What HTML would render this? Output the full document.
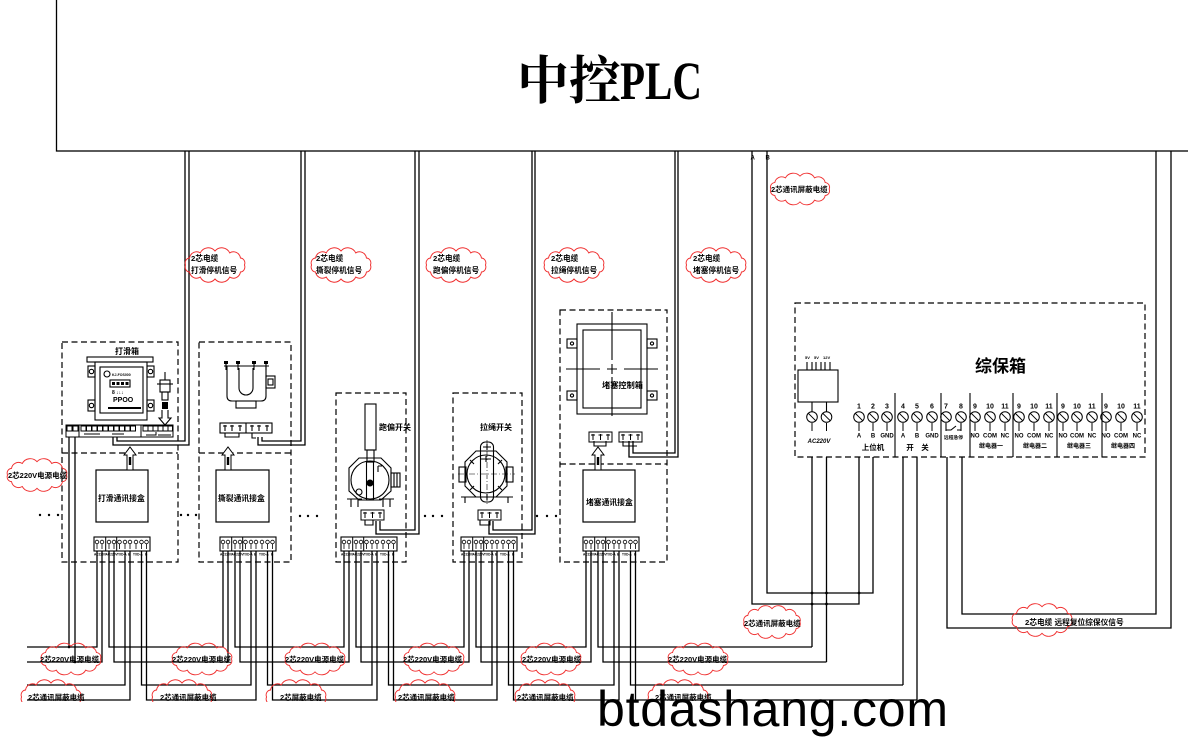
<!DOCTYPE html>
<html><head><meta charset="utf-8"><title>diagram</title>
<style>
html,body{margin:0;padding:0;background:#fff;width:1188px;height:756px;overflow:hidden}
svg{display:block}
text{font-family:"Liberation Sans","Noto Sans CJK SC",sans-serif;font-weight:bold;fill:#000;stroke:none}
</style></head><body>
<svg xmlns="http://www.w3.org/2000/svg" xmlns:xlink="http://www.w3.org/1999/xlink" width="1188" height="756" viewBox="0 0 1188 756">
<defs>
<path id="cl" d="M31,0 A5,5 0 0 1 26.8,7 A7.5,7.5 0 0 1 15.5,12.1 A9.5,9.5 0 0 1 0,14 A9.5,9.5 0 0 1 -15.5,12.1 A7.5,7.5 0 0 1 -26.8,7 A5,5 0 0 1 -31,0 A5,5 0 0 1 -26.8,-7 A7.5,7.5 0 0 1 -15.5,-12.1 A9.5,9.5 0 0 1 0,-14 A9.5,9.5 0 0 1 15.5,-12.1 A7.5,7.5 0 0 1 26.8,-7 A5,5 0 0 1 31,0 Z"/>
<g id="strip">
 <rect x="0" y="0" width="56" height="14" fill="none" stroke="#000" stroke-width="1.1"/>
 <path d="M11.7,0 V14 M22.7,0 V14" stroke="#000" stroke-width="1" fill="none"/>
 <g fill="none" stroke="#000" stroke-width="0.8">
  <circle cx="3" cy="5" r="1.8"/><circle cx="8" cy="5" r="1.8"/><circle cx="15" cy="5" r="1.8"/><circle cx="20" cy="5" r="1.8"/><circle cx="25.5" cy="5" r="1.8"/><circle cx="31" cy="5" r="1.8"/><circle cx="36" cy="5" r="1.8"/><circle cx="42" cy="5" r="1.8"/><circle cx="47.5" cy="5" r="1.8"/><circle cx="52.5" cy="5" r="1.8"/>
  <path d="M3,6.8V12 M8,6.8V12 M15,6.8V12 M20,6.8V12 M25.5,6.8V12 M31,6.8V12 M36,6.8V12 M42,6.8V12 M47.5,6.8V12 M52.5,6.8V12"/>
 </g>
 <text x="0" y="18.5" font-size="3.2">AC220V</text>
 <text x="11.5" y="18.5" font-size="3.2">AC220V</text>
 <text x="23" y="18.5" font-size="3.2">TXD-A</text>
 <text x="34" y="18.5" font-size="3.2">B</text>
 <text x="39" y="18.5" font-size="3.2">TXD-A</text>
 <text x="51" y="18.5" font-size="3.2">B</text>
</g>
<g id="tm" fill="none" stroke="#000" stroke-width="1">
 <circle r="5.3"/><line x1="-3.7" y1="-3.7" x2="3.7" y2="3.7"/><line x1="0" y1="6" x2="0" y2="14"/>
</g>
<g id="arr">
 <polygon points="-6,8 0,0 6,8 3,8 3,23 -3,23 -3,8" fill="#fff" stroke="#000" stroke-width="1"/>
 <rect x="-1.2" y="10" width="2.4" height="8" fill="#000"/>
</g>
<g id="tb3">
 <rect x="0" y="0" width="23" height="10" fill="none" stroke="#000" stroke-width="1"/>
 <path d="M4,2 V8 M2,3 H6 M11.5,2 V8 M9.5,3 H13.5 M19,2 V8 M17,3 H21" stroke="#000" stroke-width="1" fill="none"/>
</g>
<clipPath id="cb"><rect x="0" y="0" width="1188" height="702"/></clipPath>
</defs>

<!-- PLC -->
<g fill="none" stroke="#000" stroke-width="1.3">
<rect x="56.5" y="-5" width="1140" height="156"/>
</g>
<text x="517" y="99" font-size="52" style='font-family:"Liberation Serif","Noto Serif CJK SC",serif'>中控</text>
<text x="620" y="99" font-size="54" textLength="82" lengthAdjust="spacingAndGlyphs" style='font-family:"Liberation Serif",serif'>PLC</text>
<text x="750.5" y="159.5" font-size="6">A</text>
<text x="765.5" y="159.5" font-size="6">B</text>

<!-- main wiring -->
<g fill="none" stroke="#000" stroke-width="1.3">
<path d="M185,151 V441 H117 V437 M189,151 V445 H113 V437"/>
<path d="M301,151 V441 H262 V437 M305,151 V445 H258 V437"/>
<path d="M415,151 V530 H380 V521 M419,151 V534 H376 V521"/>
<path d="M532,151 V530 H493 V521 M535,151 V534 H489 V521"/>
<path d="M675,151 V453 H633 V441 M678,151 V457 H629 V441"/>
<path d="M752,151 V604 H859 V457 M767,151 V593 H873 V457"/>
<path d="M1156,151 V614 H962 V457 M1171,151 V628 H947 V457"/>
<path d="M812,457 V647 M826.5,457 V662 M903,457 V685 M917,457 V700"/>
<path d="M69,437 V647 M75,437 V662"/>
<!-- bus 647 -->
<path d="M27,647 H97 V551 M109,551 V647 H223 V551 M235,551 V647 H344 V551 M356,551 V647 H464 V551 M476,551 V647 H586 V551 M598,551 V647 H812"/>
<!-- bus 662 -->
<path d="M27,662 H102 V551 M114,551 V662 H228 V551 M240,551 V662 H349 V551 M361,551 V662 H469 V551 M481,551 V662 H591 V551 M603,551 V662 H826.5"/>
<!-- bus 685 -->
<path d="M27,685 H125 V551 M141.5,551 V685 H251 V551 M267.5,551 V685 H372 V551 M388.5,551 V685 H492 V551 M508.5,551 V685 H614 V551 M630.5,551 V685 H903"/>
<!-- bus 700 -->
<path d="M27,700 H130 V551 M146.5,551 V700 H256 V551 M272.5,551 V700 H377 V551 M393.5,551 V700 H497 V551 M513.5,551 V700 H619 V551 M635.5,551 V700 H917"/>
</g>
<g fill="#000">
<circle cx="812" cy="593" r="1.4"/><circle cx="826.5" cy="593" r="1.4"/><circle cx="859" cy="593" r="1.4"/><circle cx="812" cy="604" r="1.4"/><circle cx="826.5" cy="604" r="1.4"/>
<circle cx="69" cy="647" r="1.3"/><circle cx="75" cy="662" r="1.3"/>
</g>

<!-- dashed boxes -->
<g fill="none" stroke="#000" stroke-width="1.2" stroke-dasharray="6,3.5">
<rect x="62" y="342" width="116" height="220"/><line x1="62" y1="453" x2="178" y2="453"/>
<rect x="199" y="342" width="92" height="220"/><line x1="199" y1="453" x2="291" y2="453"/>
<rect x="336" y="393" width="70" height="169"/>
<rect x="453" y="393" width="69" height="169"/>
<rect x="560" y="310" width="107" height="252"/><line x1="560" y1="464" x2="667" y2="464"/>
<rect x="795" y="303" width="350" height="154"/>
</g>

<!-- dots between boxes -->
<g fill="#000">
<circle cx="40" cy="515" r="1.2"/><circle cx="49" cy="515" r="1.2"/><circle cx="58" cy="515" r="1.2"/>
<circle cx="181" cy="515" r="1.2"/><circle cx="188" cy="515" r="1.2"/><circle cx="196" cy="515" r="1.2"/>
<circle cx="300" cy="516" r="1.2"/><circle cx="308" cy="516" r="1.2"/><circle cx="317" cy="516" r="1.2"/>
<circle cx="425" cy="516" r="1.2"/><circle cx="433" cy="516" r="1.2"/><circle cx="442" cy="516" r="1.2"/>
<circle cx="537" cy="516" r="1.2"/><circle cx="547" cy="516" r="1.2"/><circle cx="556" cy="516" r="1.2"/>
</g>

<!-- comm boxes -->
<g fill="none" stroke="#000" stroke-width="1.2">
<rect x="96" y="470" width="52" height="52"/>
<rect x="216" y="470" width="53" height="52"/>
<rect x="583" y="470" width="52" height="52"/>
</g>
<use xlink:href="#arr" x="130" y="447"/>
<use xlink:href="#arr" x="228" y="447"/>
<use xlink:href="#arr" x="598" y="447"/>
<text x="98" y="501" font-size="7.8">打滑通讯接盒</text>
<text x="218" y="501" font-size="7.8">撕裂通讯接盒</text>
<text x="586" y="505" font-size="7.8">堵塞通讯接盒</text>

<!-- bottom strips -->
<use xlink:href="#strip" x="94" y="537"/>
<use xlink:href="#strip" x="220" y="537"/>
<use xlink:href="#strip" x="341" y="537"/>
<use xlink:href="#strip" x="461" y="537"/>
<use xlink:href="#strip" x="583" y="537"/>

<!-- Box 1 device -->
<text x="127" y="354" font-size="8" text-anchor="middle">打滑箱</text>
<g fill="none" stroke="#000" stroke-width="1.1">
<rect x="87" y="357" width="66" height="5"/>
<rect x="95" y="362" width="52" height="58"/>
<rect x="100" y="367" width="43" height="46"/>
<rect x="88" y="366" width="7" height="11"/><rect x="147" y="366" width="7" height="11"/>
<rect x="88" y="400" width="7" height="11"/><rect x="147" y="400" width="7" height="11"/>
<circle cx="91.5" cy="371.5" r="2.2"/><circle cx="150.5" cy="371.5" r="2.2"/>
<circle cx="91.5" cy="405.5" r="2.2"/><circle cx="150.5" cy="405.5" r="2.2"/>
<circle cx="107" cy="374" r="3"/>
<rect x="110" y="380" width="20" height="7"/>
<line x1="165" y1="372" x2="165" y2="380"/>
<rect x="160" y="380" width="10" height="12"/>
<line x1="157" y1="384" x2="173" y2="384"/>
<rect x="162" y="392" width="6" height="8"/>
<path d="M162,410 V418 H159 L165,425 L171,418 H168 V410"/>
</g>
<rect x="162" y="402" width="6" height="7" fill="#000"/>
<g fill="#000"><rect x="112" y="382" width="3" height="3"/><rect x="116.5" y="382" width="3" height="3"/><rect x="121" y="382" width="3" height="3"/><rect x="125.5" y="382" width="3" height="3"/></g>
<text x="112" y="376" font-size="3.5">KJ-FOS000</text>
<text x="112" y="394" font-size="5">8 ↓↓↓</text>
<text x="113" y="402" font-size="7">PPOO</text>
<line x1="108" y1="408" x2="141" y2="408" stroke="#000" stroke-width="2"/>
<!-- box1 upper strip -->
<g fill="none" stroke="#000" stroke-width="1">
<rect x="66" y="425" width="107" height="12"/>
<path d="M79,425 V437 M141,425 V437"/>
<rect x="67" y="426" width="5" height="5"/><rect x="73" y="426" width="5" height="5"/>
<rect x="81" y="426" width="5" height="5"/><rect x="86.5" y="426" width="5" height="5"/><rect x="92" y="426" width="5" height="5"/><rect x="97.5" y="426" width="5" height="5"/><rect x="103" y="426" width="5" height="5"/><rect x="108.5" y="426" width="5" height="5"/><rect x="114" y="426" width="5" height="5"/><rect x="119.5" y="426" width="5" height="5"/><rect x="125" y="426" width="5" height="5"/><rect x="130.5" y="426" width="5" height="5"/>
<rect x="143" y="426" width="5" height="5"/><rect x="148" y="426" width="5" height="5"/><rect x="153" y="426" width="5" height="5"/><rect x="158" y="426" width="5" height="5"/><rect x="163" y="426" width="5" height="5"/><rect x="168" y="426" width="4.5" height="5"/>
<path d="M84,434 H100 M112,434 H124 M146,435 H156 V432 M158,435 H171"/>
</g>

<!-- Box 2 device -->
<g fill="none" stroke="#000" stroke-width="1.1">
<path d="M227,366 V396 Q227,401 232,401 H261 Q266,401 266,396 V366"/>
<line x1="224" y1="366" x2="269" y2="366"/>
<path d="M226,362 V370 M238,362 V370 M254,362 V370 M266,362 V370"/>
<path d="M239,368 V388 A7,7 0 0 0 253,388 V368"/>
<rect x="236" y="401" width="20" height="7"/>
<rect x="266" y="376" width="9" height="12"/><rect x="268" y="379" width="5" height="6"/>
<rect x="220" y="423" width="52" height="10"/>
<path d="M246,423 V433"/>
<path d="M225,425 V431 M223,426 H227 M232,425 V431 M230,426 H234 M240,425 V431 M238,426 H242 M252,425 V431 M250,426 H254 M259,425 V431 M257,426 H261 M267,425 V431 M265,426 H269"/>
<path d="M225,433 V437 H239 V433 M252,433 V438 H256"/>
</g>
<g fill="#000"><rect x="224" y="361" width="4" height="3"/><rect x="236" y="361" width="4" height="3"/><rect x="252" y="361" width="4" height="3"/><rect x="264" y="361" width="4" height="3"/></g>

<!-- Box 3 device -->
<text x="379" y="430" font-size="8">跑偏开关</text>
<g fill="none" stroke="#000" stroke-width="1.1">
<rect x="365" y="404" width="11" height="46"/>
<rect x="367" y="450" width="7" height="12"/>
<path d="M359,458 H381 L391,468 V491 L381,500 H359 L349,491 V468 Z"/>
<circle cx="370" cy="480" r="19"/>
<rect x="366.5" y="462" width="7" height="38"/>
<rect x="391" y="473" width="9" height="14"/>
<path d="M394,473 V487 M397,473 V487"/>
<path d="M347,499 H362 M379,499 H394 M351,499 V507 M358,499 V507 M383,499 V507 M390,499 V507"/>
<path d="M378,466 V472 M378,466 H382"/>
<circle cx="359" cy="492" r="3"/>
<path d="M365,520 V525 H373 V520"/>
</g>
<circle cx="370" cy="483" r="3.5" fill="#000"/>
<use xlink:href="#tb3" x="361" y="510"/>

<!-- Box 4 device -->
<text x="480" y="430" font-size="8">拉绳开关</text>
<g fill="none" stroke="#000" stroke-width="1.1">
<path d="M476,451 H496 L507,462 V486 L496,497 H476 L465,486 V462 Z"/>
<circle cx="486" cy="474" r="19"/>
<rect x="480.5" y="442" width="13" height="60" rx="5"/>
<rect x="459" y="467" width="7" height="15"/><rect x="506" y="467" width="7" height="15"/>
<path d="M461,497 H477 M496,497 H513 M465,497 V503 M508,497 V503"/>
<path d="M483,447 H491 M487,444 V450 M483,497 H491 M487,494 V500 M481,459 H491 M486,456 V462"/>
<path d="M470,460 l4,4 M502,460 l-4,4 M470,490 l4,-4 M502,490 l-4,-4"/>
<path d="M480,520 V525 H490 V520"/>
</g>
<path d="M458,474 H515 M487,440 V506" stroke="#000" stroke-width="0.6" stroke-dasharray="6,2,1,2" fill="none"/>
<use xlink:href="#tb3" x="478" y="510"/>

<!-- Box 5 device -->
<text x="602" y="388" font-size="8.2">堵塞控制箱</text>
<g fill="none" stroke="#000" stroke-width="1.1">
<rect x="577" y="324" width="70" height="90"/>
<rect x="583" y="330" width="58" height="78"/>
<rect x="567" y="339" width="10" height="9"/><rect x="567" y="391" width="10" height="9"/>
<rect x="647" y="339" width="10" height="9"/><rect x="647" y="391" width="10" height="9"/>
<circle cx="572" cy="343.5" r="1.6"/><circle cx="572" cy="395.5" r="1.6"/><circle cx="652" cy="343.5" r="1.6"/><circle cx="652" cy="395.5" r="1.6"/>
<path d="M566,369 H600 M624,369 H658 M612,312 V360 M612,377 V416 M607,369 H617 M612,364 V374"/>
<path d="M594,441 V446 H606 V441 M623,441 V446 H637"/>
</g>
<use xlink:href="#tb3" x="589" y="432"/>
<use xlink:href="#tb3" x="619" y="432"/>

<!-- 综保箱 -->
<text x="975" y="372" font-size="17">综保箱</text>
<g fill="none" stroke="#000" stroke-width="1.1">
<rect x="798" y="370" width="40" height="32"/>
<path d="M807,362 V370 M812,362 V370 M816,362 V370 M821,362 V370 M825,362 V370 M830,362 V370"/>
<path d="M812,402 V411.5 M826.5,402 V411.5"/>
<path d="M895,393 V457 M941,393 V457 M970,393 V457 M1013,393 V457 M1057,393 V457 M1102,393 V457"/>
<path d="M946,423 V430 H951 L956,426 M957,430 H961 V423"/>
</g>
<text x="805" y="359" font-size="4">5V</text>
<text x="814" y="359" font-size="4">5V</text>
<text x="823" y="359" font-size="4">12V</text>
<use xlink:href="#tm" x="812" y="417"/><use xlink:href="#tm" x="826.5" y="417"/>
<use xlink:href="#tm" x="859" y="417"/><use xlink:href="#tm" x="873" y="417"/><use xlink:href="#tm" x="887" y="417"/>
<use xlink:href="#tm" x="903" y="417"/><use xlink:href="#tm" x="917" y="417"/><use xlink:href="#tm" x="932" y="417"/>
<use xlink:href="#tm" x="946" y="417"/><use xlink:href="#tm" x="961" y="417"/>
<use xlink:href="#tm" x="975" y="417"/><use xlink:href="#tm" x="990" y="417"/><use xlink:href="#tm" x="1005" y="417"/>
<use xlink:href="#tm" x="1019" y="417"/><use xlink:href="#tm" x="1034" y="417"/><use xlink:href="#tm" x="1049" y="417"/>
<use xlink:href="#tm" x="1063" y="417"/><use xlink:href="#tm" x="1077" y="417"/><use xlink:href="#tm" x="1092" y="417"/>
<use xlink:href="#tm" x="1106" y="417"/><use xlink:href="#tm" x="1121" y="417"/><use xlink:href="#tm" x="1137" y="417"/>
<g font-size="7" text-anchor="middle">
<text x="859" y="408.5">1</text><text x="873" y="408.5">2</text><text x="887" y="408.5">3</text>
<text x="903" y="408.5">4</text><text x="917" y="408.5">5</text><text x="932" y="408.5">6</text>
<text x="946" y="408.5">7</text><text x="961" y="408.5">8</text>
<text x="975" y="408.5">9</text><text x="990" y="408.5">10</text><text x="1005" y="408.5">11</text>
<text x="1019" y="408.5">9</text><text x="1034" y="408.5">10</text><text x="1049" y="408.5">11</text>
<text x="1063" y="408.5">9</text><text x="1077" y="408.5">10</text><text x="1092" y="408.5">11</text>
<text x="1106" y="408.5">9</text><text x="1121" y="408.5">10</text><text x="1137" y="408.5">11</text>
</g>
<g font-size="6" text-anchor="middle">
<text x="859" y="437.5">A</text><text x="873" y="437.5">B</text><text x="887" y="437.5">GND</text>
<text x="903" y="437.5">A</text><text x="917" y="437.5">B</text><text x="932" y="437.5">GND</text>
<text x="975" y="437.5">NO</text><text x="990" y="437.5">COM</text><text x="1005" y="437.5">NC</text>
<text x="1019" y="437.5">NO</text><text x="1034" y="437.5">COM</text><text x="1049" y="437.5">NC</text>
<text x="1063" y="437.5">NO</text><text x="1077" y="437.5">COM</text><text x="1092" y="437.5">NC</text>
<text x="1106" y="437.5">NO</text><text x="1121" y="437.5">COM</text><text x="1137" y="437.5">NC</text>
<text x="819" y="443" font-style="italic">AC220V</text>
<text x="953.5" y="439" font-size="4.8">远程急停</text>
<text x="991" y="448">继电器一</text><text x="1035" y="448">继电器二</text>
<text x="1079" y="448">继电器三</text><text x="1123" y="448">继电器四</text>
</g>
<text x="873" y="450" font-size="7.5" text-anchor="middle">上位机</text>
<text x="910" y="450" font-size="7.5" text-anchor="middle">开</text>
<text x="925" y="450" font-size="7.5" text-anchor="middle">关</text>

<!-- clouds -->
<g fill="none" stroke="#f03030" stroke-width="1">
<use xlink:href="#cl" transform="translate(215,265) scale(0.95,1)"/>
<use xlink:href="#cl" transform="translate(341,265) scale(0.95,1)"/>
<use xlink:href="#cl" transform="translate(456,265) scale(0.95,1)"/>
<use xlink:href="#cl" transform="translate(574,265) scale(0.95,1)"/>
<use xlink:href="#cl" transform="translate(716,265) scale(0.95,1)"/>
<use xlink:href="#cl" transform="translate(800,189) scale(0.94,0.92)"/>
<use xlink:href="#cl" transform="translate(37,475) scale(0.95,0.95)"/>
<use xlink:href="#cl" transform="translate(71,659) scale(0.95,0.92)"/>
<use xlink:href="#cl" transform="translate(202,659) scale(0.95,0.92)"/>
<use xlink:href="#cl" transform="translate(315,659) scale(0.95,0.92)"/>
<use xlink:href="#cl" transform="translate(434,659) scale(0.95,0.92)"/>
<use xlink:href="#cl" transform="translate(551,659) scale(0.95,0.92)"/>
<use xlink:href="#cl" transform="translate(698,659) scale(0.95,0.92)"/>
<use xlink:href="#cl" transform="translate(772,622) scale(0.9,0.95)"/>
<use xlink:href="#cl" transform="translate(1042,620) scale(0.95,0.95)"/>
<g clip-path="url(#cb)">
<use xlink:href="#cl" transform="translate(51,697) scale(0.95,1)"/>
<use xlink:href="#cl" transform="translate(182,697) scale(0.95,1)"/>
<use xlink:href="#cl" transform="translate(296,697) scale(0.95,1)"/>
<use xlink:href="#cl" transform="translate(425,697) scale(0.95,1)"/>
<use xlink:href="#cl" transform="translate(545,697) scale(0.95,1)"/>
<use xlink:href="#cl" transform="translate(678,697) scale(0.95,1)"/>
</g>
</g>

<!-- cloud texts -->
<g font-size="7.7">
<text x="191" y="261">2芯电缆</text><text x="191" y="273">打滑停机信号</text>
<text x="316" y="261">2芯电缆</text><text x="316" y="273">撕裂停机信号</text>
<text x="433" y="261">2芯电缆</text><text x="433" y="273">跑偏停机信号</text>
<text x="551" y="261">2芯电缆</text><text x="551" y="273">拉绳停机信号</text>
<text x="693" y="261">2芯电缆</text><text x="693" y="273">堵塞停机信号</text>
<text x="1025" y="625">2芯电缆  远程复位综保仪信号</text>
</g>
<g font-size="7.5">
<text x="771" y="192">2芯通讯屏蔽电缆</text>
<text x="8" y="478">2芯220V电源电缆</text>
<text x="40" y="662">2芯220V电源电缆</text>
<text x="172" y="662">2芯220V电源电缆</text>
<text x="285" y="662">2芯220V电源电缆</text>
<text x="403" y="662">2芯220V电源电缆</text>
<text x="522" y="662">2芯220V电源电缆</text>
<text x="668" y="662">2芯220V电源电缆</text>
<text x="28" y="700">2芯通讯屏蔽电缆</text>
<text x="160" y="700">2芯通讯屏蔽电缆</text>
<text x="280" y="700">2芯屏蔽电缆</text>
<text x="398" y="700">2芯通讯屏蔽电缆</text>
<text x="517" y="700">2芯通讯屏蔽电缆</text>
<text x="655" y="700">2芯通讯屏蔽电缆</text>
<text x="744" y="626">2芯通讯屏蔽电缆</text>
</g>

<!-- watermark -->
<text x="597" y="726" font-size="50" textLength="351" lengthAdjust="spacing" style='font-family:"Liberation Sans",sans-serif;font-weight:normal'>btdashang.com</text>
</svg>
</body></html>
